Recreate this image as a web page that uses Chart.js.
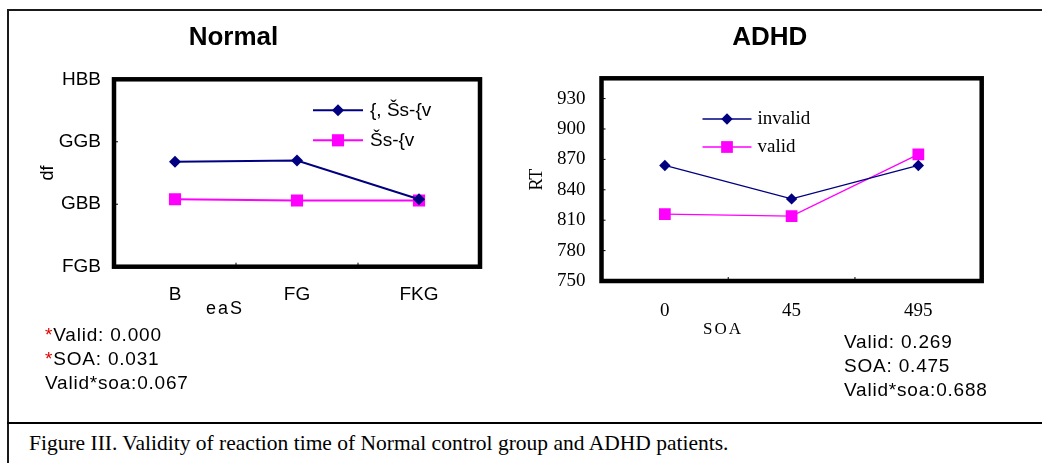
<!DOCTYPE html>
<html>
<head>
<meta charset="utf-8">
<script src="https://cdn.jsdelivr.net/npm/chart.js@4.4.1/dist/chart.umd.min.js"></script>
<style>
  html, body { margin: 0; padding: 0; background: #fff; }
  body { width: 1042px; height: 463px; position: relative; overflow: hidden; font-family: 'Liberation Sans', Arial, sans-serif; }
  .line { position: absolute; background: #1a1a1a; }
  .chartbox { position: absolute; top: 0; }
  .stats { position: absolute; font-size: 19px; line-height: 24px; letter-spacing: 0.8px; color: #000; white-space: nowrap; }
  .stats .star { color: #e00000; }
  .caption { position: absolute; left: 29px; top: 431px; font-family: 'Liberation Serif', 'Times New Roman', serif; font-size: 21.5px; line-height: 24px; white-space: nowrap; }
</style>
</head>
<body>
<div class="line" style="left:7px;top:9px;width:1035px;height:2px;"></div>
<div class="line" style="left:7px;top:9px;width:2px;height:454px;"></div>
<div class="line" style="left:7px;top:422px;width:1035px;height:2px;background:#000;"></div>

<div class="chartbox" style="left:-20px;"><canvas id="normalChart" width="520" height="345"></canvas></div>
<div class="chartbox" style="left:520px;"><canvas id="adhdChart" width="500" height="345"></canvas></div>

<div class="stats" style="left:45px;top:323px;">
  <div><span class="star">*</span>Valid: 0.000</div>
  <div><span class="star">*</span>SOA: 0.031</div>
  <div>Valid*soa:0.067</div>
</div>
<div class="stats" style="left:844px;top:330px;">
  <div>Valid: 0.269</div>
  <div>SOA: 0.475</div>
  <div>Valid*soa:0.688</div>
</div>
<div class="caption">Figure III. Validity of reaction time of Normal control group and ADHD patients.</div>

<script>
// Normal group (labels are shown as they appear in the figure)
const normalCategories = ['B', 'FG', 'FKG'];
const normalTickValues = [450, 500, 550, 600];
const normalTickLabels = ['FGB', 'GBB', 'GGB', 'HBB'];
const normalInvalid = [534, 535, 504];
const normalValid = [504, 503, 503];
const normalSeriesNames = ['{, Šs-{v', 'Šs-{v'];

// ADHD group
const adhdCategories = ['0', '45', '495'];
const adhdTickValues = [750, 780, 810, 840, 870, 900, 930];
const adhdInvalid = [864, 831, 864];
const adhdValid = [816, 814, 875];
const adhdSeriesNames = ['invalid', 'valid'];

const NAVY = '#000080';
const MAGENTA = '#ff00ff';
const SANS_NARROW = "'Liberation Sans Narrow', 'Liberation Sans', Arial, sans-serif";
const SANS = "'Liberation Sans', Arial, sans-serif";
const SERIF = "'Liberation Serif', 'Times New Roman', serif";

Chart.defaults.color = '#000';
Chart.defaults.font.family = SANS;

function marker(ctx, style, r, x, y) {
  ctx.beginPath();
  if (style === 'rectRot') {
    ctx.moveTo(x, y - r);
    ctx.lineTo(x + r, y);
    ctx.lineTo(x, y + r);
    ctx.lineTo(x - r, y);
  } else {
    const s = r * Math.SQRT1_2;
    ctx.rect(x - s, y - s, 2 * s, 2 * s);
  }
  ctx.closePath();
  ctx.fill();
}

// thick plot frame, inner tick marks, legend inside the plot, x axis title
const excelFrame = {
  id: 'excelFrame',
  beforeDatasetsDraw(chart, args, opts) {
    const {ctx, chartArea: a, scales: {x, y}} = chart;
    ctx.save();
    ctx.strokeStyle = '#000';
    ctx.lineWidth = 1;
    ctx.beginPath();
    y.ticks.forEach((t, i) => {
      const py = y.getPixelForTick(i);
      if (py > a.top + 3 && py < a.bottom - 3) {
        ctx.moveTo(a.left, py);
        ctx.lineTo(a.left + opts.tickLen, py);
      }
    });
    for (let i = 0; i < x.ticks.length - 1; i++) {
      const px = (x.getPixelForTick(i) + x.getPixelForTick(i + 1)) / 2;
      ctx.moveTo(px, a.bottom);
      ctx.lineTo(px, a.bottom - opts.tickLen);
    }
    ctx.stroke();
    ctx.lineWidth = 4.5;
    ctx.strokeRect(a.left, a.top, a.right - a.left, a.bottom - a.top);
    ctx.restore();
  },
  afterDraw(chart, args, opts) {
    const {ctx, chartArea: a} = chart;
    ctx.save();
    chart.data.datasets.forEach((ds, i) => {
      const ly = a.top + opts.legendTop + i * opts.legendGap;
      const lx = a.left + opts.legendLeft;
      ctx.strokeStyle = ds.borderColor;
      ctx.lineWidth = ds.borderWidth;
      ctx.beginPath();
      ctx.moveTo(lx, ly);
      ctx.lineTo(lx + opts.lineLen, ly);
      ctx.stroke();
      ctx.fillStyle = ds.pointBackgroundColor;
      marker(ctx, ds.pointStyle, ds.pointRadius, lx + opts.lineLen / 2, ly);
      ctx.fillStyle = '#000';
      ctx.font = opts.legendFont;
      ctx.textAlign = 'left';
      ctx.textBaseline = 'middle';
      ctx.fillText(ds.label, lx + opts.lineLen + opts.textGap, ly);
    });
    ctx.font = opts.xTitleFont;
    ctx.letterSpacing = opts.xTitleSpacing;
    ctx.textAlign = 'center';
    ctx.textBaseline = 'middle';
    ctx.fillStyle = '#000';
    ctx.fillText(opts.xTitle, a.left + opts.xTitleDx, a.bottom + opts.xTitleDy);
    ctx.restore();
  }
};

function series(label, data, color, style, radius, width) {
  return {
    label, data,
    borderColor: color, borderWidth: width,
    pointStyle: style, pointRadius: radius,
    pointBackgroundColor: color, pointBorderColor: color, pointBorderWidth: 0,
    tension: 0, fill: false
  };
}

new Chart(document.getElementById('normalChart'), {
  type: 'line',
  data: {
    labels: normalCategories,
    datasets: [
      series(normalSeriesNames[0], normalInvalid, NAVY, 'rectRot', 6, 2),
      series(normalSeriesNames[1], normalValid, MAGENTA, 'rect', 8.6, 2)
    ]
  },
  options: {
    responsive: false,
    animation: false,
    layout: {padding: {left: 7, right: 20, top: 0, bottom: 0}},
    plugins: {
      legend: {display: false},
      tooltip: {enabled: false},
      title: {display: true, text: 'Normal', color: '#000',
        font: {family: SANS, size: 26, weight: 'bold'}, padding: {top: 21.9, bottom: 26.2}},
      excelFrame: {
        tickLen: 4, legendLeft: 199, legendTop: 31, legendGap: 30, lineLen: 50, textGap: 7,
        legendFont: '19px ' + SANS_NARROW,
        xTitle: 'eaS', xTitleFont: '18px ' + SANS, xTitleSpacing: '2px', xTitleDx: 111, xTitleDy: 42
      }
    },
    scales: {
      x: {
        offset: true,
        grid: {display: false, drawTicks: false},
        border: {display: false},
        ticks: {font: {family: SANS_NARROW, size: 19}, padding: 17, maxRotation: 0, autoSkip: false},
        afterFit: s => { s.height = 78.3; }
      },
      y: {
        min: 450, max: 600,
        grid: {display: false, drawTicks: false},
        border: {display: false},
        ticks: {
          stepSize: 50, padding: 13, font: {family: SANS_NARROW, size: 19},
          callback: v => normalTickLabels[normalTickValues.indexOf(v)]
        },
        title: {display: true, text: 'df', font: {family: SANS, size: 18}, padding: {top: 50, bottom: 0}},
        afterFit: s => { s.width = 127; }
      }
    }
  },
  plugins: [excelFrame]
});

new Chart(document.getElementById('adhdChart'), {
  type: 'line',
  data: {
    labels: adhdCategories,
    datasets: [
      series(adhdSeriesNames[0], adhdInvalid, NAVY, 'rectRot', 5.7, 1.3),
      series(adhdSeriesNames[1], adhdValid, MAGENTA, 'rect', 8.3, 1.3)
    ]
  },
  options: {
    responsive: false,
    animation: false,
    layout: {padding: {left: 37.7, right: 38.3, top: 0, bottom: 0}},
    plugins: {
      legend: {display: false},
      tooltip: {enabled: false},
      title: {display: true, text: 'ADHD', color: '#000',
        font: {family: SANS, size: 26, weight: 'bold'}, padding: {top: 21.9, bottom: 25.2}},
      excelFrame: {
        tickLen: 4, legendLeft: 101, legendTop: 40.7, legendGap: 28, lineLen: 49, textGap: 6,
        legendFont: '19px ' + SERIF,
        xTitle: 'SOA', xTitleFont: '17px ' + SERIF, xTitleSpacing: '2px', xTitleDx: 121.5, xTitleDy: 49
      }
    },
    scales: {
      x: {
        offset: true,
        grid: {display: false, drawTicks: false},
        border: {display: false},
        ticks: {font: {family: SERIF, size: 19}, padding: 19, maxRotation: 0, autoSkip: false},
        afterFit: s => { s.height = 64; }
      },
      y: {
        min: 750, max: 950,
        grid: {display: false, drawTicks: false},
        border: {display: false},
        ticks: {
          stepSize: 30, includeBounds: false, padding: 16, font: {family: SERIF, size: 19},
          callback: v => adhdTickValues.includes(v) ? String(v) : null
        },
        title: {display: true, text: 'RT', font: {family: SERIF, size: 18}, padding: {top: -31, bottom: 0}},
        afterFit: s => { s.width = 43.8; }
      }
    }
  },
  plugins: [excelFrame]
});
</script>
</body>
</html>
